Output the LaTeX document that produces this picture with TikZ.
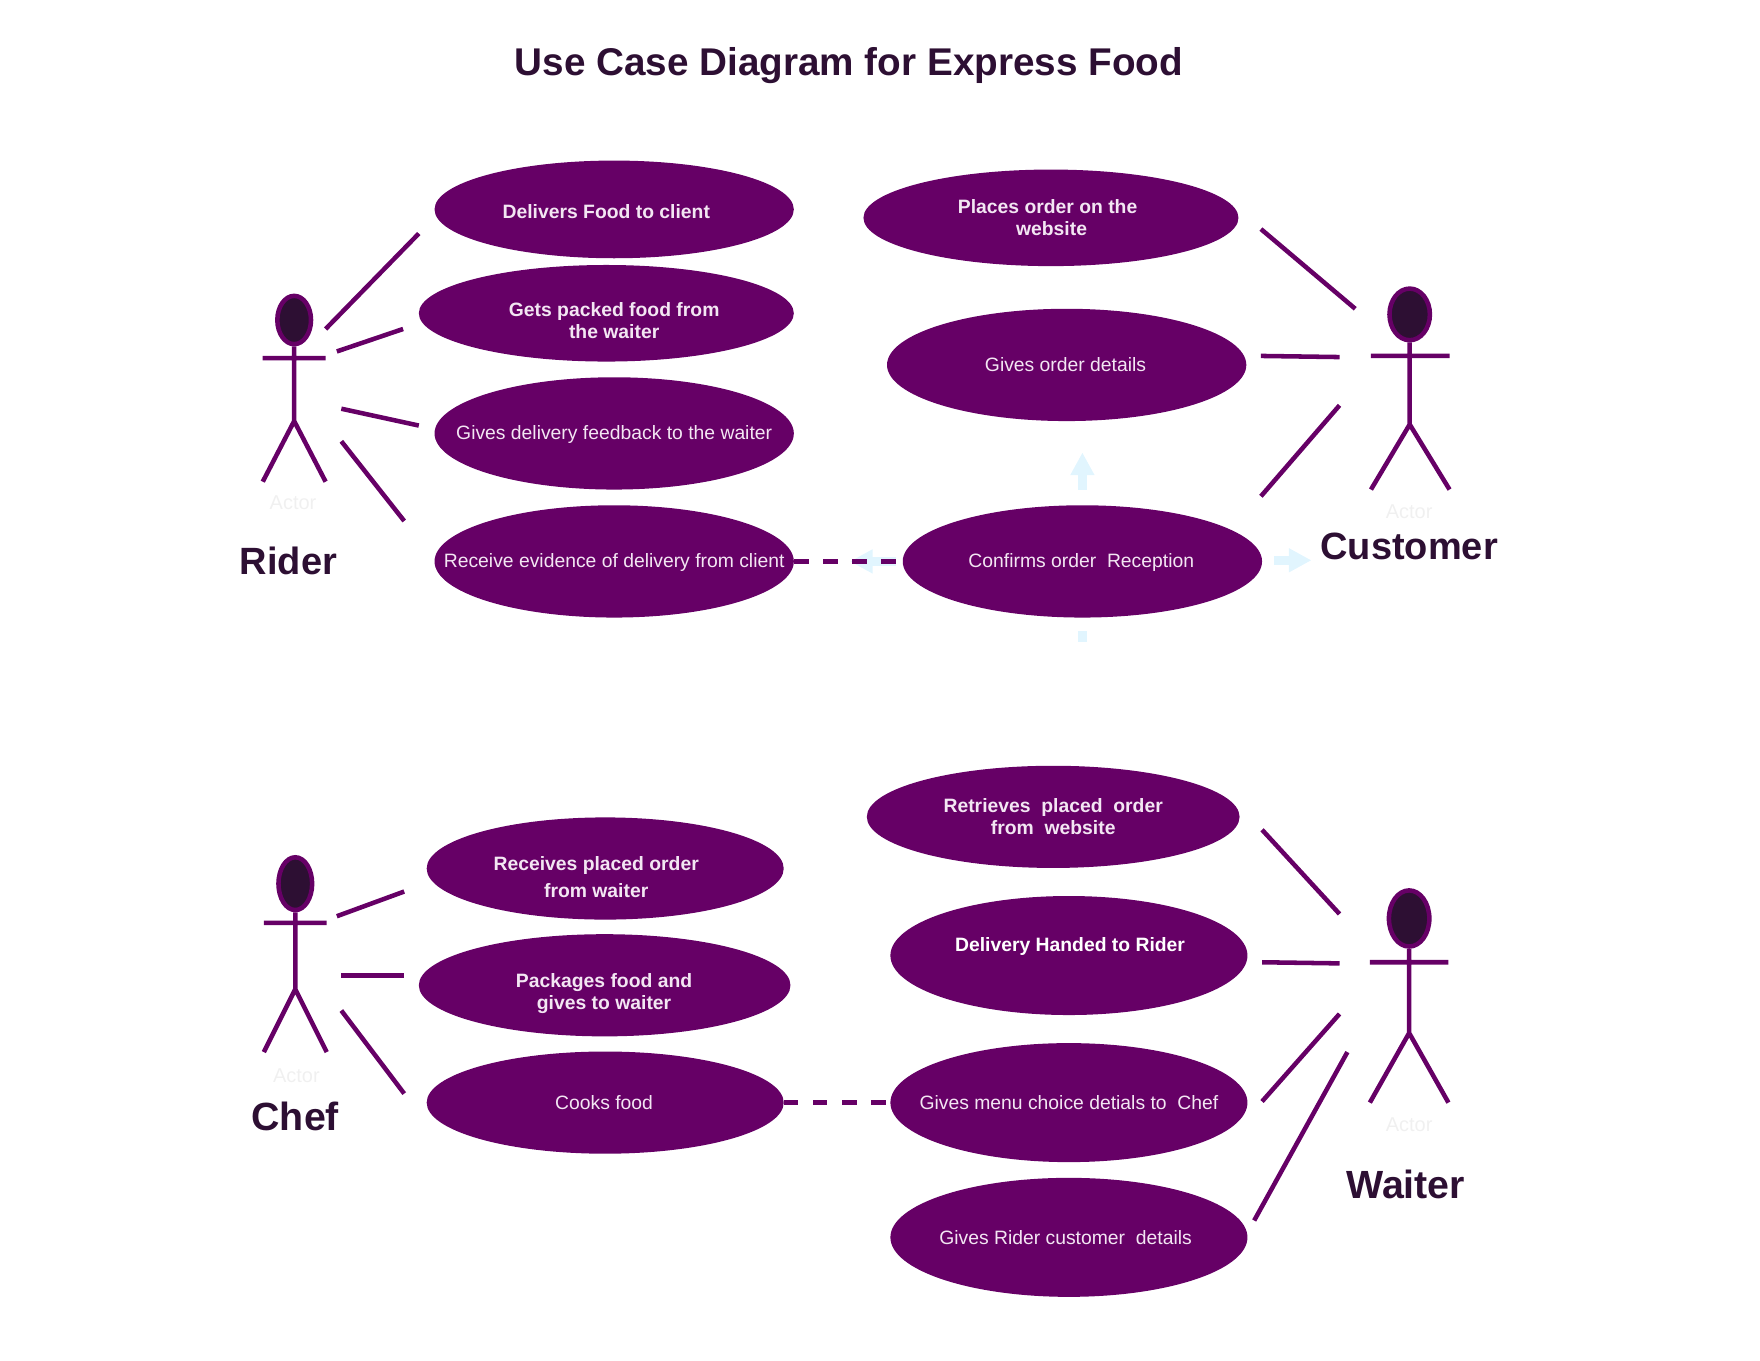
\documentclass[tikz,border=0pt]{standalone}
\usepackage{fontspec}
\setmainfont{Liberation Sans}
\usetikzlibrary{arrows.meta,positioning}
\usetikzlibrary{shapes.geometric}
\definecolor{plum}{HTML}{660066}
\definecolor{darkplum}{HTML}{2D0F33}
\definecolor{pale}{HTML}{E1F5FE}
\definecolor{casewhite}{HTML}{F3E6F3}
\def\u{0.8421pt}
\tikzset{
	casebox/.style 2 args={ellipse,draw=none,fill=plum,inner sep=0pt,minimum width=#1*\u,minimum height=#2*\u},
	casetext/.style={text=casewhite,align=center,inner sep=0pt,font=\fontsize{14.5}{16.7}\selectfont},
	boldtext/.style={casetext,font=\fontsize{14.5}{16.7}\selectfont\bfseries},
	assoc/.style={draw=plum,line width=3.4pt},
	include/.style={assoc,dash pattern=on 10.8pt off 11pt},
	stick/.style={draw=plum,line width=3.4pt},
	head/.style 2 args={ellipse,draw=plum,line width=3.4pt,fill=darkplum,inner sep=0pt,minimum width=#1*\u,minimum height=#2*\u},
	actortext/.style={text=black!6,inner sep=0pt,font=\fontsize{15}{18}\selectfont},
	rolename/.style={text=darkplum,inner sep=0pt,font=\fontsize{29.5}{36}\selectfont\bfseries},
	hover/.style={draw=pale,line width=6.5pt,-{Triangle[length=17pt,width=17pt]}}
}
\begin{document}
\begin{tikzpicture}
	[x=\u,y=-\u]
	\useasboundingbox (0,0) rectangle (1567.5,1211.3);

	\node[text=darkplum,inner sep=0pt,font=\fontsize{29}{34}\selectfont\bfseries] (title) at (756,58) {Use Case Diagram for Express Food};

	% use cases, top half
	\node[casebox={320}{87}] (delivers) at (547,186.5) {};
	\node[boldtext] (deliverstext) at (540,188) {Delivers Food to client};
	\node[casebox={334}{86}] (gets) at (540,279) {};
	\node[boldtext] (getstext) at (547,285.5) {Gets packed food from\\the waiter};
	\node[casebox={320}{100}] (feedback) at (547,386) {};
	\node[casetext] (feedbacktext) at (547,387) {Gives delivery feedback to the waiter};
	\node[casebox={320}{100}] (evidence) at (547,500) {};
	\node[casetext] (evidencetext) at (547,501) {Receive evidence of delivery from client};
	\node[casebox={334}{86}] (places) at (936,194) {};
	\node[boldtext] (placestext) at (933,194) {Places order on the\\\hspace*{6pt}website};
	\node[casebox={320}{100}] (details) at (950,325) {};
	\node[casetext] (detailstext) at (949,325) {Gives order details};
	\node[casebox={320}{100}] (confirms) at (964,500) {};
	\node[casetext] (confirmstext) at (963,501) {Confirms order\ \ Reception};

	% hover arrows left on the confirm box
	\draw[hover] (964,436) -- (964,403);
	\draw[hover] (1135,499) -- (1168,499);
	\draw[hover] (798,500) -- (757,500);
	\draw[hover,-] (964,562) -- (964,572);

	\draw[include,shorten >=6*\u] (evidence) -- (confirms);

	% rider
	\node[head={30}{43}] (riderhead) at (262,285) {};
	\coordinate (riderhip) at (262,375);
	\coordinate (riderarml) at (234,319);
	\coordinate (riderarmr) at (290,319);
	\coordinate (riderfootl) at (234,429);
	\coordinate (riderfootr) at (290,429);
	\draw[stick] (riderhead) -- (riderhip) -- (riderfootl) (riderhip) -- (riderfootr) (riderarml) -- (riderarmr);
	\node[actortext] (rideractor) at (261,448) {Actor};
	\node[rolename,font=\fontsize{28.5}{36}\selectfont\bfseries] (rider) at (257,500) {Rider};

	\coordinate (ra1) at (290,293); \coordinate (rb1) at (373,208);
	\coordinate (ra2) at (300,313); \coordinate (rb2) at (359,293);
	\coordinate (ra3) at (304,364); \coordinate (rb3) at (373,379);
	\coordinate (ra4) at (304,393); \coordinate (rb4) at (360,464);
	\draw[assoc] (ra1) -- (rb1);
	\draw[assoc] (ra2) -- (rb2);
	\draw[assoc] (ra3) -- (rb3);
	\draw[assoc] (ra4) -- (rb4);

	% customer
	\node[head={36}{46}] (custhead) at (1255.5,280) {};
	\coordinate (custhip) at (1255.5,378);
	\coordinate (custarml) at (1221,317);
	\coordinate (custarmr) at (1291,317);
	\coordinate (custfootl) at (1221,436);
	\coordinate (custfootr) at (1291,436);
	\draw[stick] (custhead) -- (custhip) -- (custfootl) (custhip) -- (custfootr) (custarml) -- (custarmr);
	\node[actortext] (custactor) at (1255,456) {Actor};
	\node[rolename,font=\fontsize{28.5}{36}\selectfont\bfseries] (customer) at (1255,487) {Customer};

	\coordinate (ca1) at (1123,204); \coordinate (cb1) at (1207,275);
	\coordinate (ca2) at (1123,317); \coordinate (cb2) at (1193,318);
	\coordinate (ca3) at (1123,442); \coordinate (cb3) at (1193,361);
	\draw[assoc] (ca1) -- (cb1);
	\draw[assoc] (ca2) -- (cb2);
	\draw[assoc] (ca3) -- (cb3);

	% use cases, bottom half
	\node[casebox={318}{91}] (receives) at (539,773.5) {};
	\node[boldtext,align=center,font=\fontsize{14.5}{19.8}\selectfont\bfseries] (receivestext) at (531,781) {Receives placed order\\from waiter};
	\node[casebox={331}{91}] (packages) at (538.5,877.5) {};
	\node[boldtext] (packagestext) at (538,885) {Packages food and\\gives to waiter};
	\node[casebox={318}{91}] (cooks) at (539,982) {};
	\node[casetext] (cookstext) at (538,982) {Cooks food};
	\node[casebox={332}{91}] (retrieves) at (938,727.5) {};
	\node[boldtext] (retrievestext) at (938,727) {Retrieves\ \ placed\ \ order\\from\ \ website};
	\node[casebox={318}{106}] (handed) at (952,851) {};
	\node[boldtext,text=white] (handedtext) at (953,843) {Delivery Handed to Rider};
	\node[casebox={318}{106}] (menu) at (952,982) {};
	\node[casetext] (menutext) at (952,982) {Gives menu choice detials to\ \ Chef};
	\node[casebox={318}{106}] (ridercust) at (952,1102) {};
	\node[casetext] (ridercusttext) at (949,1102) {Gives Rider customer\ \ details};

	\draw[include,shorten >=2*\u] (cooks) -- (menu);

	% chef
	\node[head={30}{47}] (chefhead) at (263,787) {};
	\coordinate (chefhip) at (263,881);
	\coordinate (chefarml) at (235,822);
	\coordinate (chefarmr) at (291,822);
	\coordinate (cheffootl) at (235,937);
	\coordinate (cheffootr) at (291,937);
	\draw[stick] (chefhead) -- (chefhip) -- (cheffootl) (chefhip) -- (cheffootr) (chefarml) -- (chefarmr);
	\node[actortext] (chefactor) at (264,958) {Actor};
	\node[rolename] (chef) at (263,994) {Chef};

	\coordinate (fa1) at (300,816); \coordinate (fb1) at (360,794);
	\coordinate (fa2) at (304,869); \coordinate (fb2) at (360,869);
	\coordinate (fa3) at (304,900); \coordinate (fb3) at (360,974);
	\draw[assoc] (fa1) -- (fb1);
	\draw[assoc] (fa2) -- (fb2);
	\draw[assoc] (fa3) -- (fb3);

	% waiter
	\node[head={36}{50}] (waitehead) at (1255,818) {};
	\coordinate (waitehip) at (1255,920);
	\coordinate (waitearml) at (1220,857);
	\coordinate (waitearmr) at (1290,857);
	\coordinate (waitefootl) at (1220,982);
	\coordinate (waitefootr) at (1290,982);
	\draw[stick] (waitehead) -- (waitehip) -- (waitefootl) (waitehip) -- (waitefootr) (waitearml) -- (waitearmr);
	\node[actortext] (waiteactor) at (1255,1002) {Actor};
	\node[rolename] (waiter) at (1252,1055) {Waiter};

	\coordinate (wa1) at (1124,739); \coordinate (wb1) at (1193,814);
	\coordinate (wa2) at (1124,857); \coordinate (wb2) at (1193,858);
	\coordinate (wa3) at (1124,981); \coordinate (wb3) at (1193,903);
	\coordinate (wa4) at (1117,1087); \coordinate (wb4) at (1200,937);
	\draw[assoc] (wa1) -- (wb1);
	\draw[assoc] (wa2) -- (wb2);
	\draw[assoc] (wa3) -- (wb3);
	\draw[assoc] (wa4) -- (wb4);
\end{tikzpicture}
\end{document}
